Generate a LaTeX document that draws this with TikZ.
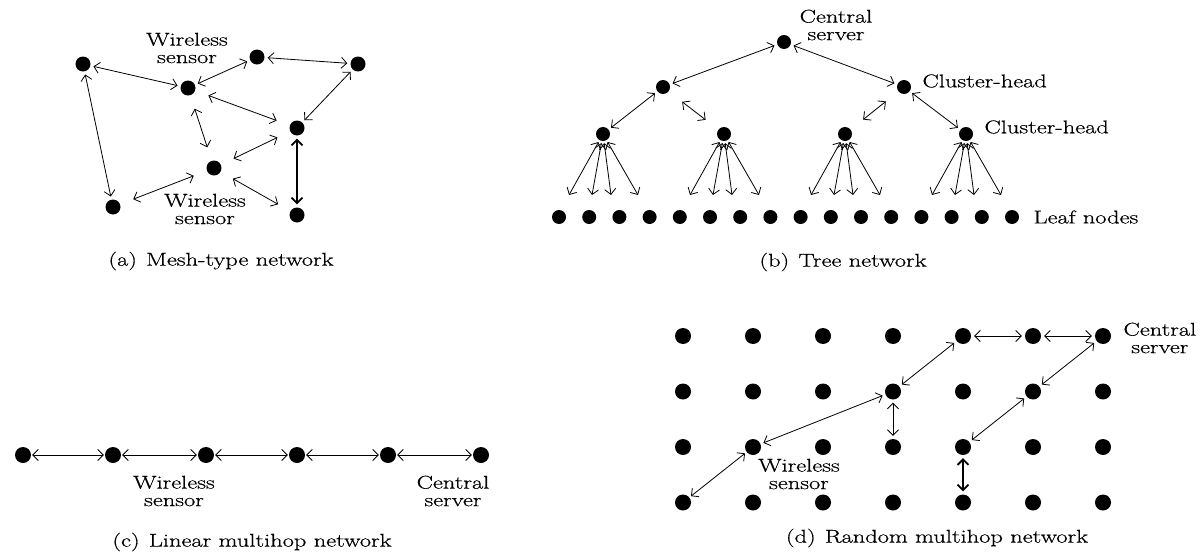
\documentclass[tikz,border=0pt]{standalone}
\usepackage{fontspec}
\setmainfont{Latin Modern Roman}[FakeStretch=1.32, FakeBold=0.6]
\usetikzlibrary{arrows.meta}

\begin{document}
\begin{tikzpicture}[x=1pt, y=-1pt,
    every node/.style={font=\fontsize{18.5}{17.5}\selectfont, align=center},
    dot/.style={circle, fill, inner sep=0pt, minimum size=15pt},
    link/.style={<->, >={Straight Barb[length=5.5pt,width=11pt]}, line width=.8pt, shorten <=3pt, shorten >=3pt},
    farlink/.style={link, shorten <=14pt, shorten >=14pt},
    heavy/.style={link, line width=1.8pt},
    fan/.style={link, shorten <=2pt, shorten >=0pt}]
  \useasboundingbox (0,0) rectangle (1203,554);
  % (a) mesh-type network
  \node[dot] (m1) at (83,64) {};
  \node[dot] (m2) at (188,88) {};
  \node[dot] (m3) at (257,57) {};
  \node[dot] (m4) at (358,64) {};
  \node[dot] (m5) at (297,128) {};
  \node[dot] (m6) at (214,168) {};
  \node[dot] (m7) at (113,207) {};
  \node[dot] (m8) at (297,215) {};
  \node (ws1) at (187,48) {Wireless\\sensor};
  \node (ws2) at (205,209) {Wireless\\sensor};
  \draw[link] (m1) -- (m2);
  \draw[link] (m1) -- (m7);
  \draw[link] (m2) -- (m3);
  \draw[link] (m3) -- (m4);
  \draw[link] (m4) -- (m5);
  \draw[farlink] (m2) -- (m5);
  \draw[farlink] (m2) -- (m6);
  \draw[farlink] (m6) -- (m5);
  \draw[farlink] (m7) -- (m6);
  \draw[farlink] (m6) -- (m8);
  \draw[heavy] (m5) -- (m8);
  \node (capa) at (221,261) {(a)\enspace Mesh-type network};
  % (b) tree network
  \node[dot, minimum size=14pt] (root) at (784,42) {};
  \node[dot, minimum size=14pt] (hl) at (663,87) {};
  \node[dot, minimum size=14pt] (hr) at (904,87) {};
  \node[dot, minimum size=14pt] (ta) at (603,134) {};
  \node[dot, minimum size=14pt] (tb) at (724,134) {};
  \node[dot, minimum size=14pt] (tc) at (845,134) {};
  \node[dot, minimum size=14pt] (td) at (966,134) {};
  \foreach \i in {0,...,15}
    \node[dot, minimum size=14pt] (leaf\i) at (559+30.2*\i,217) {};
  \node (cs1) at (836,25) {Central\\server};
  \node[anchor=west] (ch1) at (919,81) {Cluster-head};
  \node[anchor=west] (ch2) at (981,127) {Cluster-head};
  \node[anchor=west] (lf) at (1030,217) {Leaf nodes};
  \draw[link] (root) -- (hl);
  \draw[link] (root) -- (hr);
  \draw[link] (hl) -- (ta);
  \draw[link] (hr) -- (td);
  \draw[farlink, shorten <=17pt, shorten >=16pt] (hl) -- (tb);
  \draw[farlink, shorten <=16pt, shorten >=16pt] (hr) -- (tc);
  \foreach \h in {ta,tb,tc,td}
    \foreach \o in {-34,-11,8,35}
      \draw[fan] (\h) -- ++(\o,61);
  \node (capb) at (843,262) {(b)\enspace Tree network};
  % (c) linear multihop network
  \node[dot, minimum size=16pt] (l1) at (23,455) {};
  \node[dot, minimum size=16pt] (l2) at (113,455) {};
  \node[dot, minimum size=16pt] (l3) at (206,455) {};
  \node[dot, minimum size=16pt] (l4) at (297,455) {};
  \node[dot, minimum size=16pt] (l5) at (388,455) {};
  \node[dot, minimum size=16pt] (l6) at (481,455) {};
  \draw[link, shorten <=1pt, shorten >=1pt] (l1) -- (l2);
  \draw[link, shorten <=1pt, shorten >=1pt] (l2) -- (l3);
  \draw[link, shorten <=1pt, shorten >=1pt] (l3) -- (l4);
  \draw[link, shorten <=1pt, shorten >=1pt] (l4) -- (l5);
  \draw[link, shorten <=1pt, shorten >=1pt] (l5) -- (l6);
  \node (ws3) at (174,491) {Wireless\\sensor};
  \node (cs2) at (453,491) {Central\\server};
  \node (capc) at (252,542) {(c)\enspace Linear multihop network};
  % (d) random multihop network
  \foreach \c in {0,...,6}
    \foreach \r in {0,...,3}
      \node[dot, minimum size=16pt] (g\c\r) at (683+70*\c,336+55.5*\r) {};
  \node[anchor=west] (cs3) at (1120,338) {Central\\server};
  \node (ws4) at (799,474) {Wireless\\sensor};
  \draw[link, shorten <=2pt, shorten >=2pt] (g03) -- (g12);
  \draw[link] (g12) -- (g31);
  \draw[link] (g31) -- (g40);
  \draw[link] (g31) -- (g32);
  \draw[link] (g40) -- (g50);
  \draw[link] (g50) -- (g60);
  \draw[link] (g60) -- (g51);
  \draw[link] (g51) -- (g42);
  \draw[heavy] (g42) -- (g43);
  \node (capd) at (937,538) {(d)\enspace Random multihop network};
\end{tikzpicture}
\end{document}
